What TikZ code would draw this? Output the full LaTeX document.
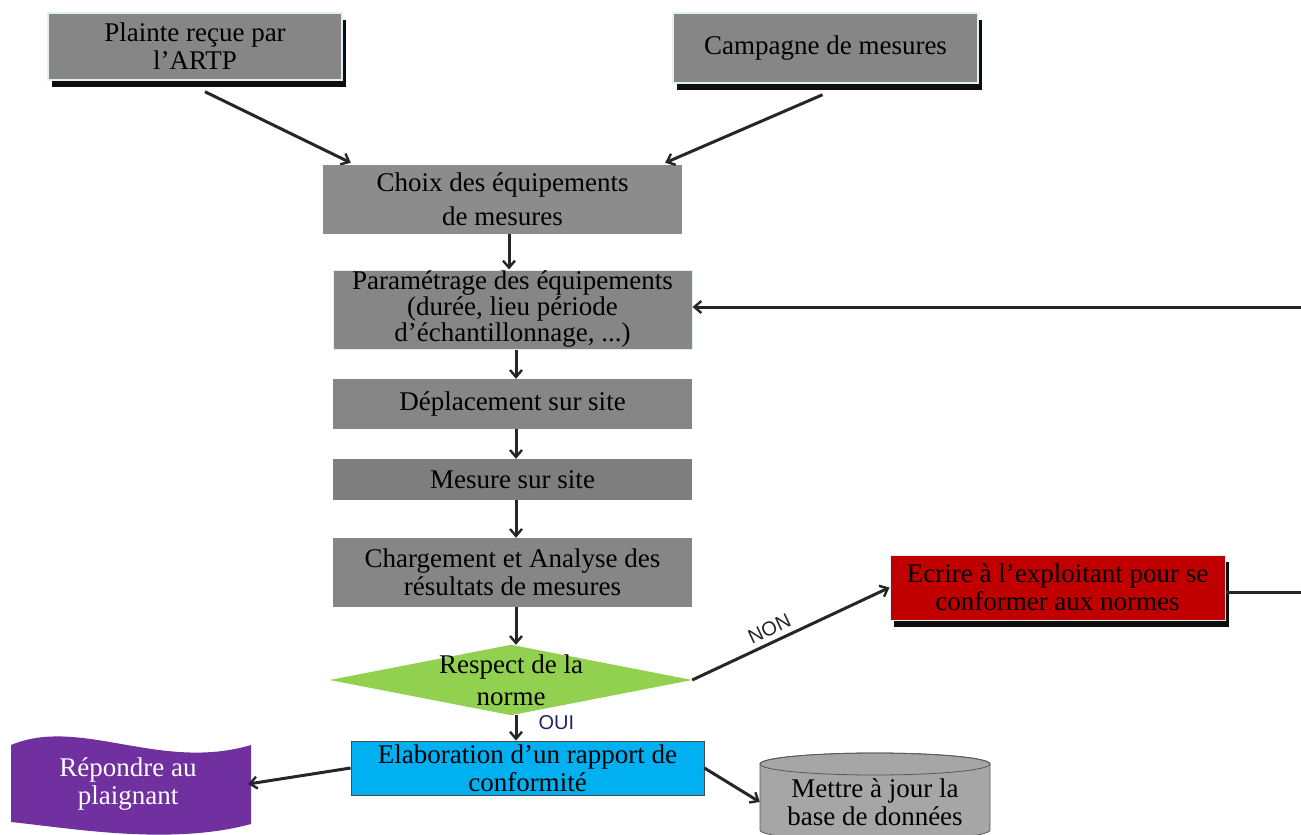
\documentclass[tikz,border=0pt]{standalone}
\usepackage{fontspec}
\setmainfont{Liberation Serif}
\setsansfont{Liberation Sans}
\usetikzlibrary{shadows,arrows.meta,backgrounds}
\definecolor{boxgray}{RGB}{134,134,134}
\definecolor{fgray}{RGB}{126,126,126}
\definecolor{cyanbox}{RGB}{0,176,240}
\definecolor{redbox}{RGB}{192,0,0}
\definecolor{purplebox}{RGB}{112,48,160}
\definecolor{greenbox}{RGB}{146,208,80}
\definecolor{cylgray}{RGB}{166,166,166}
\definecolor{ouicol}{RGB}{35,35,100}
\definecolor{lightedge}{RGB}{225,240,242}
\begin{document}
\begin{tikzpicture}[x=1pt,y=-1pt,
  txt/.style={font=\fontsize{27}{28}\selectfont, align=center, inner sep=0pt, text=black},
  box/.style={txt, rectangle, fill=boxgray},
  shad/.style={drop shadow={shadow xshift=4pt,shadow yshift=-7pt,fill=black,opacity=0.95}},
  edge/.style={draw=lightedge, line width=1.5pt},
  arr/.style={-{Straight Barb[length=7pt,width=12pt,line width=2.4pt]}, line width=3pt, black!85},
  link/.style={line width=3pt, black!85},
  lbl/.style={font=\sffamily\fontsize{20}{22}\selectfont, inner sep=1pt}
]
\useasboundingbox (0,0) rectangle (1301,835);

% top boxes
\node[box, shad, edge, minimum width=294pt, minimum height=67pt] (A) at (195,46.5) {Plainte reçue par\\l’ARTP};
\node[box, shad, edge, minimum width=305pt, minimum height=70pt] (B) at (825.5,48) {Campagne de mesures};

% main column
\node[box, fill=boxgray!95!white, minimum width=359pt, minimum height=69pt] (C) at (502.5,199.5) {Choix des équipements\\[6pt]de mesures};
\node[box, draw=lightedge, line width=1pt, minimum width=359pt, minimum height=79pt, font=\fontsize{27}{26}\selectfont] (D) at (512.5,309.5) {Paramétrage des équipements\\(durée, lieu période\\d’échantillonnage, ...)};
\node[box, minimum width=359pt, minimum height=50pt] (E) at (512.5,404) {Déplacement sur site};
\node[box, fill=fgray, minimum width=359pt, minimum height=41pt] (F) at (512.5,479.5) {Mesure sur site};
\node[box, minimum width=359pt, minimum height=69pt] (G) at (512.5,572.5) {Chargement et Analyse des\\résultats de mesures};

% decision
\node[txt, minimum width=362pt, minimum height=70pt] (Dm) at (511,680) {Respect de la\\[4pt]norme};

% red box
\node[box, fill=redbox, shad, draw=lightedge, line width=1pt, minimum width=335pt, minimum height=65pt] (R) at (1057.5,587.5) {Ecrire à l’exploitant pour se\\conformer aux normes};

% bottom row
\node[box, fill=cyanbox, draw=black!70, line width=0.8pt, minimum width=353pt, minimum height=54pt] (H) at (527.5,768) {Elaboration d’un rapport de\\conformité};
\node[txt, text=white, minimum width=240pt, minimum height=90pt] (P) at (128,784) {Répondre au\\plaignant};
\node[txt, minimum width=230pt, minimum height=64pt] (Cy) at (875,802) {Mettre à jour la\\base de données};

\coordinate (outR) at (1301,592);
\coordinate (inR) at (1301,307);

\begin{scope}[on background layer]
  \fill[greenbox] (Dm.west) -- (Dm.north) -- (Dm.east) -- (Dm.south) -- cycle;
  \fill[purplebox] (11,745) .. controls (80,716) and (160,772) .. (251,745)
     -- (251,824) .. controls (170,846) and (70,828) .. (11,822) -- cycle;
  \filldraw[fill=cylgray, draw=gray!70!black, line width=0.8pt]
     (760,764) -- (760,830) arc[start angle=180, end angle=0, x radius=115, y radius=11]
     -- (990,764) arc[start angle=0, end angle=-180, x radius=115, y radius=11] -- cycle;
  \draw[gray!70!black, line width=0.8pt] (875,764) ellipse[x radius=115, y radius=11];
\end{scope}

% connectors
\draw[arr] ([xshift=10pt,yshift=-11pt]A.south) -- ([xshift=28pt,yshift=2pt]C.north west);
\draw[arr] ([xshift=-3pt,yshift=-11pt]B.south) -- ([xshift=-17pt,yshift=2pt]C.north east);
\draw[arr] (C.south -| 509,0) -- (D.north -| 509,0);
\draw[arr] (D.south -| 516,0) -- (E.north -| 516,0);
\draw[arr] (E.south -| 516,0) -- (F.north -| 516,0);
\draw[arr] (F.south -| 516,0) -- (G.north -| 516,0);
\draw[arr] (G.south -| 516,0) -- (Dm.north -| 516,0);
\draw[arr] (Dm.east) -- node[lbl, sloped, above=4pt, pos=0.42] {NON} (R.west);
\draw[link] (R.east |- outR) -- (outR);
\draw[arr] (inR) -- (D.east |- inR);
\draw[arr] (Dm.south -| 516,0) -- (H.north -| 516,0) node[lbl, text=ouicol, anchor=west, pos=0.3, xshift=20pt] {OUI};
\draw[arr] (H.west) -- (P.east);
\draw[arr] (H.east) -- (Cy.west);
\end{tikzpicture}
\end{document}
